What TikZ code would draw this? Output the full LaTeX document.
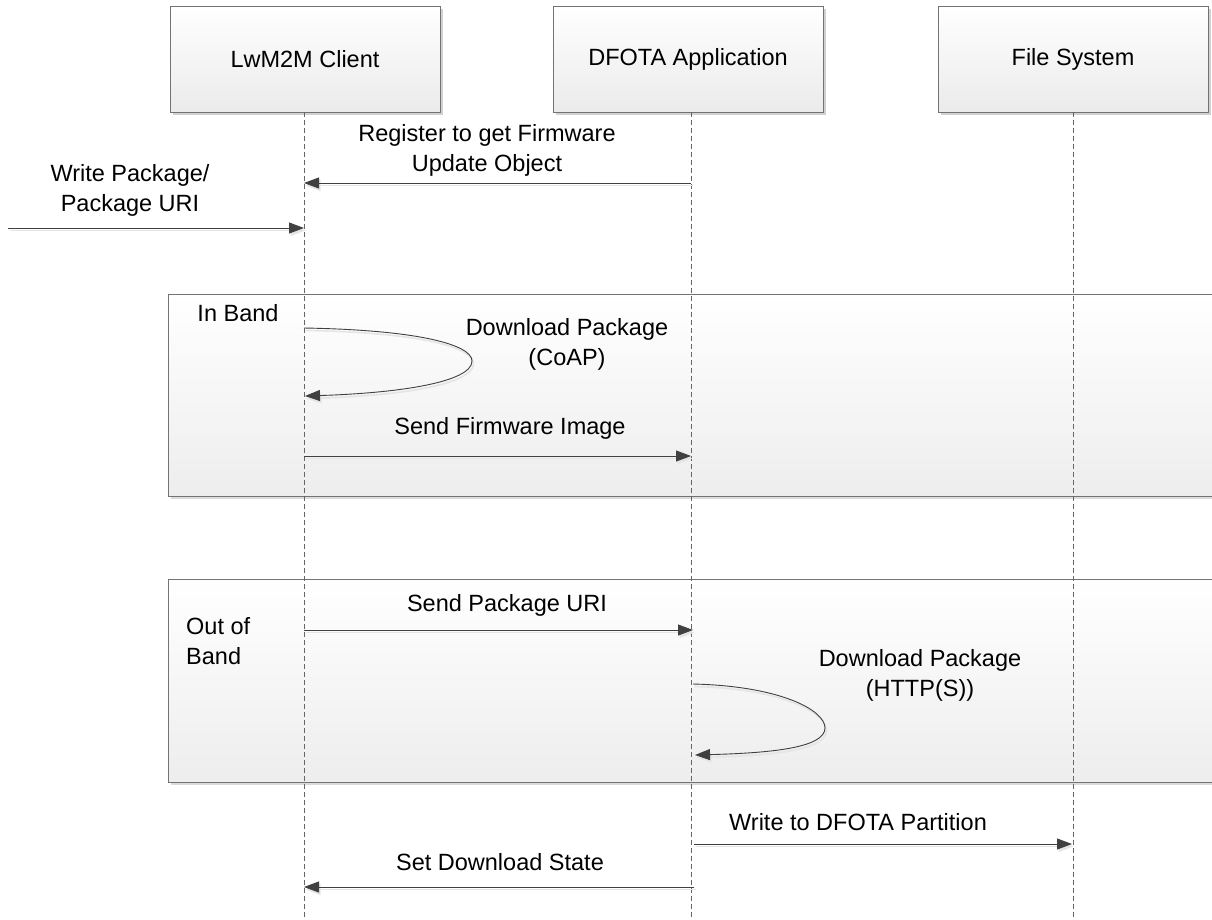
\documentclass[tikz,border=0pt]{standalone}
\usepackage{fontspec}
\setmainfont{Liberation Sans}
\usetikzlibrary{arrows.meta}

\tikzset{
  lbl/.style={font=\fontsize{23.5}{30}\selectfont, text=black, inner sep=0pt, align=center},
  head/.style={draw=black!55, line width=0.9pt, top color=white, bottom color=black!8,
    minimum width=270, minimum height=106, inner sep=0pt,
    font=\fontsize{23.5}{30}\selectfont},
  headshadow/.style={fill=black!18, draw=none},
  lifeline/.style={draw=black!60, line width=0.8pt, dash pattern=on 5pt off 3pt},
  msg/.style={draw=black!75, line width=0.9pt,
    -{Triangle[length=15pt,width=11pt]},
    preaction={draw=black!10, line width=1.6pt, transform canvas={shift={(1.5pt,-2.5pt)}}}},
  framebox/.style={draw=black!55, line width=1pt},
}

\begin{document}
\begin{tikzpicture}[x=1pt,y=-1pt]
\useasboundingbox (0,0) rectangle (1212,919);

% alternative fragments (In Band / Out of Band)
\fill[black!14] (171,298) rectangle (1212,499);
\shade[top color=white, bottom color=black!7] (168,294) rectangle (1212,496);
\draw[framebox] (1212,294) -- (168,294) -- (168,496) -- (1212,496);

\fill[black!14] (171,583) rectangle (1212,785);
\shade[top color=white, bottom color=black!7] (168,579) rectangle (1212,782);
\draw[framebox] (1212,579) -- (168,579) -- (168,782) -- (1212,782);

% participant headers
\fill[headshadow] (173,9) rectangle (443,115);
\fill[headshadow] (556,9) rectangle (826,115);
\fill[headshadow] (941,9) rectangle (1211,115);
\node[head] (client) at (305,59) {LwM2M Client};
\node[head] (dfota)  at (688,59) {DFOTA Application};
\node[head] (fs)     at (1073,59) {File System};

% lifelines
\coordinate (clientEnd) at (304,919);
\coordinate (dfotaEnd)  at (691,919);
\coordinate (fsEnd)     at (1073,919);
\draw[lifeline] (client.south -| clientEnd) -- (clientEnd);
\draw[lifeline] (dfota.south -| dfotaEnd) -- (dfotaEnd);
\draw[lifeline] (fs.south -| fsEnd) -- (fsEnd);

% message points on the lifelines
\coordinate (c1) at (304,183);  \coordinate (d1) at (691,183);
\coordinate (ext) at (8,228);   \coordinate (c2) at (304,228);
\coordinate (c3) at (304,328);  \coordinate (c4) at (305,396);
\coordinate (c5) at (304,456);  \coordinate (d5) at (691,456);
\coordinate (c6) at (304,630);  \coordinate (d6) at (693,630);
\coordinate (d7) at (693,684);  \coordinate (d8) at (695,755);
\coordinate (d9) at (694,844);  \coordinate (f9) at (1072,844);
\coordinate (d10) at (694,887); \coordinate (c10) at (304,887);

% messages
\draw[msg] (d1) -- (c1);
\draw[msg] (ext) -- (c2);
\draw[msg] (c3) .. controls (420,330) and (472,345) .. (472,361)
                .. controls (472,382) and (400,393) .. (c4);
\draw[msg] (c5) -- (d5);
\draw[msg] (c6) -- (d6);
\draw[msg] (d7) .. controls (780,686) and (825,710) .. (825,728)
                .. controls (825,748) and (770,753) .. (d8);
\draw[msg] (d9) -- (f9);
\draw[msg] (d10) -- (c10);

% labels
\node[lbl] (l1) at (487,150) {Register to get Firmware\\Update Object};
\node[lbl] (l2) at (130,190) {Write Package/\\Package URI};
\node[lbl] (inband) at (238,313) {In Band};
\node[lbl] (l3) at (567,344) {Download Package\\(CoAP)};
\node[lbl] (l4) at (510,428) {Send Firmware Image};
\node[lbl, anchor=west, align=left] (outband) at (186,641) {Out of\\Band};
\node[lbl] (l5) at (507,605) {Send Package URI};
\node[lbl] (l6) at (920,675) {Download Package\\(HTTP(S))};
\node[lbl] (l7) at (858,822) {Write to DFOTA Partition};
\node[lbl] (l8) at (500,862) {Set Download State};
\end{tikzpicture}
\end{document}
